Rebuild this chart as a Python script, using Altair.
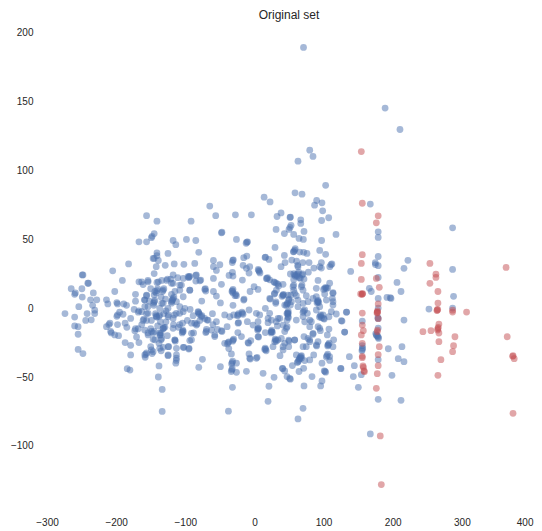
import altair as alt
import pandas as pd

blue_left = [
(-274,-4),(-265,14),(-260,10),(-259,11),(-249,24),(-248,24),(-249.5,14),(-241,18),(-240,18),(-233,11),(-249,8),(-237,6),(-228,6),(-254,1),(-234,2),(-260,-6.5),(-242,-4),(-231,-1.5),(-231,-4),(-244,-9),(-236,-8.5),(-260,-13),(-255,-13.5),(-255,-19),(-255,-30),(-248,-33),
(-205,27),(-182,32),(-191,20),(-202,12),(-214,6),(-212,3),(-199,4),(-198,3),(-189,3),(-185,2),(-174,-1),(-172,10),(-172,5),(-167,19),(-161,17),(-154,20),(-159,6),(-156,9),(-168,-3),(-167,-2),(-195,-3),(-199,-6),(-198,-5),(-190,-4.5),(-179,-7.5),(-187,-11),(-198,-12),(-184.5,-14),(-214,-13.5),(-210.5,-12),(-209,-11),(-208,-17),(-207,-18),(-202,-19.5),(-196.5,-20),(-187,-25),(-179,-27),(-179,-34),(-184,-44),(-180,-45),(-167,-25),(-173,-16.4),(-172,-15),(-168,-15),(-170.5,-21),(-161,-9),(-160,-8),(-163,-12),(-156,-4),(-154,1),
(-145,9.5),(-145,4.6),(-144,5.5),(-146,3.5),(-145.5,2),(-142.5,-5.5),(-143,-4),(-141,-6.5),(-138,-6),(-137,-5),(-132,-15),(-131,-14),(-129.5,-14),(-146.5,-18),(-145,-17),(-154,-18),(-136,-19.5),(-135,-18),(-137,-18),(-134.4,-22),(-135,-23),(-146.5,-22.7),(-138,-25.6),(-150,-28),(-132,-28.5),(-135,-31),(-146.5,-31.6),(-148,-33),(-157,-33.5),(-156,-32.5),(-158,-35.7),(-125,-34.5),(-138,-42),(-139,-50),(-133.4,-59),(-133.4,-75),
(-156,67),(-141,63),(-145,54),(-149,51),(-148,52),(-156,48),(-167,48),(-141,40),(-141,38),(-146.5,36),(-145,36),(-139,34.5),(-142,30),(-145,25),(-129,31),(-125,39.6),(-141,18.6),(-134,20),(-125.7,21),(-141,12.6),(-140,14),(-142,11),(-132,13),(-131,14),(-133,12),(-144,12),(-128.6,6.5),(-134,3.4),(-124.7,-5),(-124,-28),(-156,-9),(-149,-9),(-150,-15),(-152,5),(-135,8),(-128,-2),(-136,-10),(-150,14),(-128,-10),(-126,-20),(-140,-13),(-131,-4),
]

blue_center = [
(71,189),(63,106.5),(84.7,110),(80,114.5),(103,89),(58.7,83.6),(68.8,82.6),(14,80.4),(22.6,77),(-64.6,74),(-56,67),(-27.5,67.6),(-4.4,67.6),(-91.6,63),(-47.7,54.6),(-47,55),
(90,78),(97.7,76.3),(87,74.6),(98.7,70.5),(38.5,69),(32.7,66.4),(51.5,65.7),(52,66),(67,64),(67,61.4),(97.2,63.5),(107.4,65.5),(51.5,58.5),(53,60),(50,57),(31.3,57),(43.3,54),(56.8,53.4),(71.7,55.6),(64.5,50.5),(70.8,49.8),(118,53.4),(97.2,49),(-26,49.8),(-11,47.8),(-10,48),(-12,47),
(-98.3,49.8),(-84.8,49),(-117.6,49),(-113.7,46),(-80.5,40.4),(29.8,44),(58.2,42),(59,43),(57,41),(56.3,40.8),(65.5,40.6),(71.2,40.4),(76,39.6),(94.4,41.8),(103,39),(43.3,38.2),(15.4,36.7),(16,37),(21,35.3),(54,34.8),(61,34),(70,33),(79,33),(62.6,31),(63,30),(44.3,33),(38.5,30),(96.8,33),(94.4,30),(110.7,31.4),(112,32),(109,30),(86,29),(96.8,29),(78,26),
(-59.3,34.5),(-50,31.4),(-59.3,30),(-55,27.3),(-86.3,32.4),(-102,31.7),(-116,32),(-31.4,34.5),(-32,33),(-30.5,35),(-15.5,36.5),(-11,37.7),(-16.4,31),(-6.8,30),(-11.6,28.8),(-7.8,25.4),(6.2,27.3),(7,26.5),(5.5,28),(8,25.5),(-31.8,25.9),(-36.7,23.7),(-31,23.2),(-59.3,21.5),(-47.7,17.2),(-94.5,22.7),(-93.5,23),(-95,22),(-84.8,23.7),(-84.8,19.6),(-77.6,20.3),(-93.5,13),(-71.8,13.5),(-71,14),(-70.4,12.3),(-59.3,12),(-55,8.7),
(-17.4,20.3),(-31.8,12.6),(-31,13.5),(-32.5,12),(-31,11),(-27,10),(-26,9),(-28,9),(-6.3,12),(-0.5,15.5),(5.2,13.5),(-15.5,5.8),(-15,6.5),(-31,2),(-49.2,3.7),(-76.2,5.1),
(18.3,21.3),(19,22),(22,20.5),(29.3,18.6),(28,19),(34,17.4),(35,16),(41.4,17.2),(31.7,13),(28.8,10.2),(41.4,9.2),(40,8.5),(42,10),(23,6.5),(30.8,3.4),(31,4.5),
(52,24.7),(58.2,24),(59,23),(57,25),(63,24.7),(62,23),(64,26),(70,24.7),(69,24),(66.4,21.5),(65,22),(71.7,21),(56.8,20.8),(92,20),(108.8,18),(56.8,16.7),(68.8,16.7),(56.8,13),(70.3,13),(52.4,9.4),(49.6,5.8),(50,6.5),(47.2,2.9),(48,3.5),(46,2),(60.6,9),(63,5.8),(70.3,3.4),(75,9),(76.5,-3.8),
(89.5,8.2),(91.5,4.6),(92,5.5),(90.5,3.8),(93,4),(101.6,14.3),(103,15),(100,13.5),(106,14.5),(113.6,11.2),(112.7,7),(113.6,2.2),(101.6,10.2),(104,5.8),
(48.1,-3.4),(49,-2.5),(47,-4),(48.5,-4.5),(48.6,-6.3),(49,-7),(52,2.2),(47.2,-8.7),(47.2,-13.5),(43.8,-17),(39,-22),(49.6,-23.2),(50,-24),(58.2,-23.2),(70.3,-3.1),(71,-2),(72.7,-10),(71.7,-20.7),(80,-8.7),(80,-13.5),(84.7,-19),(77.5,-22),(80,-24.4),(70.3,-28),
(89.5,-1.4),(95.3,-5.8),(96,-5),(94,-6.5),(97,-7),(100,-7.5),(101,-8),(107.8,-6.3),(118.4,-4.3),(133,-3),(125.7,-9.2),(130.5,-17.4),(92,-13.5),(95.3,-16.4),(107.8,-15.2),(105.4,-19.5),(114.6,-23),(107,-26.5),(108,-25.5),(106,-27.5),(113.6,-28),(89.5,-26.8),(90,-27.5),(105,-34.5),(106,-33.5),(104,-35.5),(108.8,-38),(85.7,-34),(66.4,-35.7),(67,-35),(65.5,-36.5),(68,-34.5),(65,-37),(63,-38.9),(62,-39.5),(64,-38),(72.7,-38.1),(80,-37.6),(54.9,-41.7),(71.2,-43.7),(64.5,-46),(97.7,-40),(102,-46),(103,-46.5),(101,-45.5),(124.7,-43.7),(83.3,-49.7),(97.7,-52.9),(95.8,-56.5),(71.7,-56.5),(70.3,-72.7),(63,-80.4),(19.7,-67.6),(-37.6,-74.8),
(21,-56.7),(-31.8,-57.5),(28.4,-50.2),(12.5,-47.3),(40.4,-43.7),(41,-44),(43.8,-45.6),(47.2,-49.7),(52,-51.6),(51,-51),(-11.6,-45.9),(-26,-46.6),(-32.8,-44.9),(-33.5,-46),(-32,-44),(-32.3,-39.6),(-33,-40.5),(-31.5,-38.5),(-26,-40),(-49.2,-42.5),(-80.5,-43),(-75.2,-37.2),
(3.8,-35.7),(-6.8,-36.4),(-6,-37),(-7.8,-33.3),(16.3,-30),(17,-31),(15.5,-29),(37,-34.5),(26.9,-28),(30.8,-23.2),(31.5,-24),(30,-22.5),(34,-23),(43.8,-25.6),(41.4,-30.4),(49.6,-28),(24.5,-17.1),(25,-16),(24,-18),(26,-17.5),(19.7,-10.6),(15.8,-17.8),(24.5,-8.7),(15.8,-0.2),(22,-3.8),(34.1,-7.5),(33.2,-13),(41.4,-12.3),
(5.2,-15.2),(6,-14.5),(4.5,-16),(2.8,-3.8),(5.2,-9.9),(-2,-12.3),(-10.2,-9.9),(-7.8,-1.4),(-17.4,-3.8),(-16.5,-4.5),(-18,-3),(-23.6,-5),(-23,-4),(-24.5,-5.5),(-30,-5),(-23.6,-11),(-23,-10.5),(-35.7,-6.3),(-43,-5),(-60.7,-4.1),
(-24,-17.8),(-18.8,-20.7),(-30.9,-23.2),(-31.5,-24),(-30,-22.5),(-38.1,-25),(-37,-24.5),(-39,-26),(-43,-25.6),(-37.1,-29.4),(-33.3,-33.3),(-9.2,-25),(-8.5,-25.5),(-5.3,-23.6),(5.2,-20.7),(6,-21),
(-39.5,-13.5),(-47.7,-16.4),(-47,-17),(-55,-9.9),(-53.5,-15.4),(-57.4,-19.5),(-70.4,-17.8),(-69.4,-15.4),(-68.5,-8.7),(-80.5,-3.8),(-81,-3),(-79.5,-4.5),(-76.6,-6.3),(-76,-5.5),(-88.7,-5.5),(-83.9,-12.3),(-83,-11.5),(-91,-11),(-104,-11),(-104,-17.1),(-103.5,-16),(-104.5,-18),(-91,-18.3),(-93.5,-23.6),(-115.2,-23.2),(-114.5,-24),(-102,-28.5),(-95,-29.7),(-113.7,-40),(-112.8,-36.4),(-113,-38),
(-103,8.2),(-112.8,4.6),(-120,4.6),(-119,5.5),(-120,3.5),(-108,-3.8),(-100.7,-0.2),(-117.6,17.9),(-108,16.7),(-103,21.5),(-108,13),(-93,-1),(-79,-9),(-60,-12),(-116,-5),(-110,-14),(-97,-9),(-117,-12),(-88,-18),(-120,10),(-111,22),(-121,21),(-115,12),
]

blue_dense = [
(-117.6,7),(-116.5,8),(-118.5,6),(-141.7,-6.3),(-81.5,-2.6),(-86.3,-11),(-103,-17),(-137,-19.5),(-115,-23),(-158.6,-34),
(-108,1),(-103,-2.6),(-117.6,-7.5),(-124.8,-6.3),(-93.5,13),(-105.6,16.7),(-120,18),(-96,22.7),(-84,24),(-79,19.8),(-117.6,24),(-127,20),(-139,19),(-153.8,19),(-163,19),(-156,9.4),(-158.6,5.8),(-158.6,1),(-163,-2.6),(-153.8,-3.8),(-132,3.4),(-125,-0.2),(-137,-0.2),(-113,-3.8),(-158.6,-16),(-149,-17),(-153.8,-19.5),(-144,-23),(-132,-14.7),(-117.6,-14.7),(-108,-12),(-91,-23),(-72,-7.5),(-67,-8.7),(-69.5,-17),(-62,-16),(-57.4,-20.7),(-149,-30.4),(-137,-29.2),(-124.8,-28),(-124.8,-34),(-112.8,-34),(-103,-28.5),(-94.5,-29.2),(-112.8,-29.2),
(60.6,24),(55.8,15.5),(58.2,10.7),(48.6,9.4),(41.4,9.4),(31.7,17.9),(17.3,21.5),(92,4.6),(99.2,-5),(94.4,1),(48.6,-3.8),(24.5,-17.1),(29.3,-24.4),(5.2,-14.7),(63,1),(72.7,-1.4),(82.3,-9.9),(60.6,-8.7),(46.2,-14.7),(58.2,-23),(79.9,-23),(92,-24.4),(106.4,-26.8),(67.9,-36.4),(14.9,-30),(2.8,-36.4),(108.8,-35.2),(113.6,4.6),(111.2,-2.6),(104,14.3),(113.6,10.7),(31.7,-9.9),(19.7,-7.5),(7.6,-5),(36.6,-7.5),(43.8,2.2),(53.4,4.6),(70.3,-6.2),(84.7,7),(89.5,14.3),(77.5,4.6),(67.9,15.5),(29.3,10.7),(22.1,7),(94.4,-14.7),(84.7,-18.3),(75,-28),(60.6,-34),(41.4,-28),
]

blue_right = [
(189,145),(210.5,129.5),(167.6,75.4),(179,55.3),(179,51.2),(179,37.4),(174.8,32.9),(175,31.5),(179,30.7),(139.2,26.6),(222,34.6),(216.3,28.8),(179,22.2),(206.2,18.6),(212,12),(166.2,14.3),(169,12),(179,7),(191.7,7.7),(197.5,7),(196.5,7.5),(133.4,-2.9),(126.7,-9.4),(130.5,-17.4),(156,-9.4),(216.3,-8.7),(179,0),(179,-7.7),(178.5,-7),(179,-14.5),(176.3,-19.5),(177,-20),(175.5,-18.5),(179,-21.2),(179.5,-22),(178.5,-20.5),(156,-27.3),(156,-30),(156.5,-29),(155.5,-31),(193.6,-29.5),(213.4,-28),(208,-36.7),(216.3,-38.9),(179,-37.4),(137.3,-35.3),(144.5,-41.8),(125.2,-44),(154.6,-48.3),(143,-49.7),(198.9,-48.8),(150.3,-57.5),(179,-66.2),(212,-66.9),(167.6,-91.3),
(286.6,58.2),(286.6,28),(288,8.5),(252.4,-0.7),(286.6,0),
]

red_points = [
(154.6,113.5),(156,76),(179,66.9),(176.3,61.8),(156,38.7),(154.6,32.4),(176.3,21.5),(154.6,20.8),(180.6,15),(156,10.2),(156.5,10.5),(155.5,10),(153.6,10.2),(179,3),(177.7,-2.9),(178,-2),(177.3,-3.5),(178,-3.2),(156,-3.6),(179,-7.7),(156,-12.3),(157.5,-16.4),(154.6,-19.5),(177.7,-17.1),(178,-16),(156,-25.6),(180.6,-28),(179,-33.8),(156,-36),(156,-35),(179,-41.8),(157.5,-43),(157,-42),(159,-46.1),(158.5,-45.5),(177.7,-47.6),(176.3,-58.2),(182,-92.7),(183.5,-128),
(253.8,32.4),(262.5,24.6),(262.5,22.2),(253.8,17.9),(265.4,12),(265.4,3.6),(264.4,-1.4),(265,-1),(264,-1.8),(286.6,-2.9),(286.6,-1.5),(306.8,-2.9),(266.8,-11.6),(265.4,-15),(265.8,-14),(265,-16),(255.3,-16.4),(243.7,-17.1),(266.8,-18.1),(266.8,-24.4),(290,-20.8),(288,-27.3),(286.6,-31.6),(269.7,-37.4),(265.4,-48.8),
(364,29.5),(365.6,-20.8),(374,-34.5),(373.5,-35),(375.7,-36.7),(374,-76.3),
]

x_ticks = [-300, -200, -100, 0, 100, 200, 300, 400]
y_ticks = [-100, -50, 0, 50, 100, 150, 200]
title_text = "Original set"
blue_color = "#4c72b0"
red_color = "#c44e52"

rows = []
for x, y in blue_left + blue_center + blue_dense + blue_right:
    rows.append({"x": x, "y": y, "group": "blue"})
for x, y in red_points:
    rows.append({"x": x, "y": y, "group": "red"})
df = pd.DataFrame(rows)

last_tick = "datum.value == 400"

chart = (
    alt.Chart(df)
    .mark_circle(size=46, opacity=0.5)
    .encode(
        x=alt.X("x:Q", scale=alt.Scale(domain=[-300, 400], nice=False, zero=False),
                axis=alt.Axis(values=x_ticks, title=None, grid=False, domain=False, ticks=False,
                              labelPadding=9, labelFlush=False, labelOverlap=False,
                              labelAlign={"condition": {"test": last_tick, "value": "right"}, "value": "center"},
                              labelOffset={"condition": {"test": last_tick, "value": 2}, "value": 0})),
        y=alt.Y("y:Q", scale=alt.Scale(domain=[-145, 206], nice=False, zero=False),
                axis=alt.Axis(values=y_ticks, title=None, grid=False, domain=False, ticks=False,
                              labelPadding=14, labelFlush=False, labelOverlap=False)),
        color=alt.Color("group:N", legend=None,
                        scale=alt.Scale(domain=["blue", "red"], range=[blue_color, red_color])),
    )
    .properties(
        width=484, height=484,
        title=alt.TitleParams(title_text, fontSize=12, font="Liberation Sans", fontWeight="normal",
                              color="#262626", anchor="middle", offset=2),
        autosize=alt.AutoSizeParams(type="none"),
        padding={"left": 39, "top": 16, "right": 3, "bottom": 20},
    )
    .configure_view(stroke=None)
    .configure_axis(labelFont="Liberation Sans", labelFontSize=10, labelColor="#262626")
)

chart.save("out.html", embed_options={"renderer": "svg", "actions": False})
